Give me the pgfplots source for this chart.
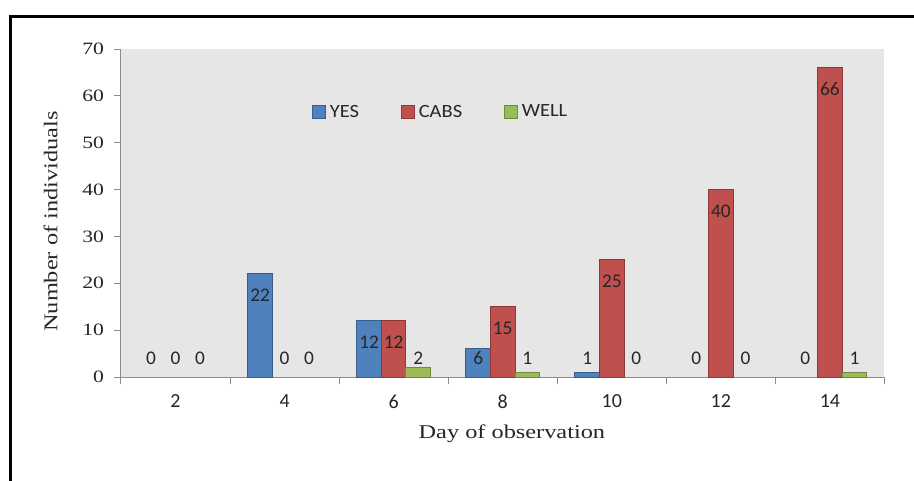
\documentclass[border=0pt]{standalone}
\usepackage{pgfplots}
\pgfplotsset{compat=1.18}
\usepackage{pgfplotstable}
\usepackage{fontspec}
\newfontfamily\serifx[FakeStretch=1.25]{Liberation Serif}
\newfontfamily\calib{Carlito}
\newfontfamily\calibw[FakeStretch=1.1]{Carlito}
\definecolor{cyes}{HTML}{4F81BD}
\definecolor{cyesd}{HTML}{385D8A}
\definecolor{ccabs}{HTML}{C0504D}
\definecolor{ccabsd}{HTML}{8C3836}
\definecolor{cwell}{HTML}{9BBB59}
\definecolor{cwelld}{HTML}{71893F}
\definecolor{plotbg}{HTML}{E6E6E6}
\definecolor{axgray}{HTML}{8C8C8C}
\newcommand\xl[1]{\raisebox{-4.5pt}[\height][0pt]{#1}}

\pgfplotstableread{
x yes cabs well
0 0 0 0
1 22 0 0
2 12 12 2
3 6 15 1
4 1 25 0
5 0 40 0
6 0 66 1
}\datatable

\pgfplotsset{
  lbl/.style={draw=none, mark=none, forget plot, nodes near coords,
    visualization depends on={rawy \as \rawy},
    nodes near coords style={font=\calib\fontsize{14.5}{16}\selectfont, text=black!85, anchor=center, inner sep=0pt,
      yshift={(\rawy<8.65 ? (4.05-\rawy) : -4.6)*3.514pt}}},
  sqleg/.style={legend image code/.code={\draw[##1] (0pt,-4.7pt) rectangle (9.45pt,4.7pt);}},
  nozero/.style={y filter/.expression={y==0 ? nan : y}},
}

\begin{document}
\begin{tikzpicture}
\useasboundingbox (0,0) rectangle (685.5pt,-360pt);
\draw[line width=2.25pt,black] (7.5pt,-420pt) -- (7.5pt,-12pt) -- (720pt,-12pt);
\begin{axis}[
  scale only axis, width=572.6pt, height=246pt,
  at={(90.75pt,-282.75pt)}, anchor=south west,
  xmin=-0.5, xmax=6.5, ymin=0, ymax=70,
  axis background/.style={fill=plotbg},
  axis x line*=bottom, axis y line*=left,
  axis line style={axgray, line width=0.75pt},
  tick align=outside,
  xtick={0,...,6}, xticklabels={\xl{2},\xl{4},\xl{6},\xl{8},\xl{10},\xl{12},\xl{14}},
  minor xtick={-0.5,0.5,...,6.5},
  major x tick style={draw=none},
  minor x tick style={axgray, line width=0.75pt},
  ytick={0,10,...,70},
  yticklabel={\pgfmathprintnumber{\tick}\hspace*{4pt}},
  ytick style={axgray, line width=0.75pt},
  major tick length=5.25pt, minor tick length=5.25pt,
  /pgf/number format/assume math mode=true,
  yticklabel style={font=\serifx\fontsize{13}{15}\selectfont, text=black!85},
  xticklabel style={font=\calib\fontsize{15}{18}\selectfont, text=black!85},
  xlabel={Day of observation}, ylabel={Number of individuals},
  xlabel style={font=\serifx\fontsize{14.6}{17}\selectfont, text=black!85, at={(axis description cs:0.512,0)}, anchor=base, yshift=-45.75pt, inner sep=0pt},
  ylabel style={font=\serifx\fontsize{14.6}{17}\selectfont, text=black!85, at={(axis description cs:-0.0832,0.474)}, anchor=base, inner sep=0pt},
  legend columns=3,
  legend style={draw=none, fill=none, at={(axis description cs:0.2502,0.808)}, anchor=west, inner sep=0pt,
    font=\calibw\fontsize{14}{16}\selectfont, text=black!85, nodes={inner sep=0pt},
    /tikz/every odd column/.append style={column sep=3pt},
    /tikz/every even column/.append style={column sep=31.5pt}},
]
\addplot[ybar, sqleg, nozero, bar width=0.225, bar shift=-0.225, fill=cyes, draw=cyesd, line width=0.75pt] table[x=x,y=yes]{\datatable};
\addplot[ybar, sqleg, nozero, bar width=0.225, bar shift=0, fill=ccabs, draw=ccabsd, line width=0.75pt] table[x=x,y=cabs]{\datatable};
\addplot[ybar, sqleg, nozero, bar width=0.225, bar shift=0.225, fill=cwell, draw=cwelld, line width=0.75pt] table[x=x,y=well]{\datatable};
\legend{YES,CABS,WELL}
\addplot[lbl] table[x expr=\thisrow{x}-0.225, y=yes]{\datatable};
\addplot[lbl] table[x=x, y=cabs]{\datatable};
\addplot[lbl] table[x expr=\thisrow{x}+0.225, y=well]{\datatable};
\end{axis}
\end{tikzpicture}
\end{document}
